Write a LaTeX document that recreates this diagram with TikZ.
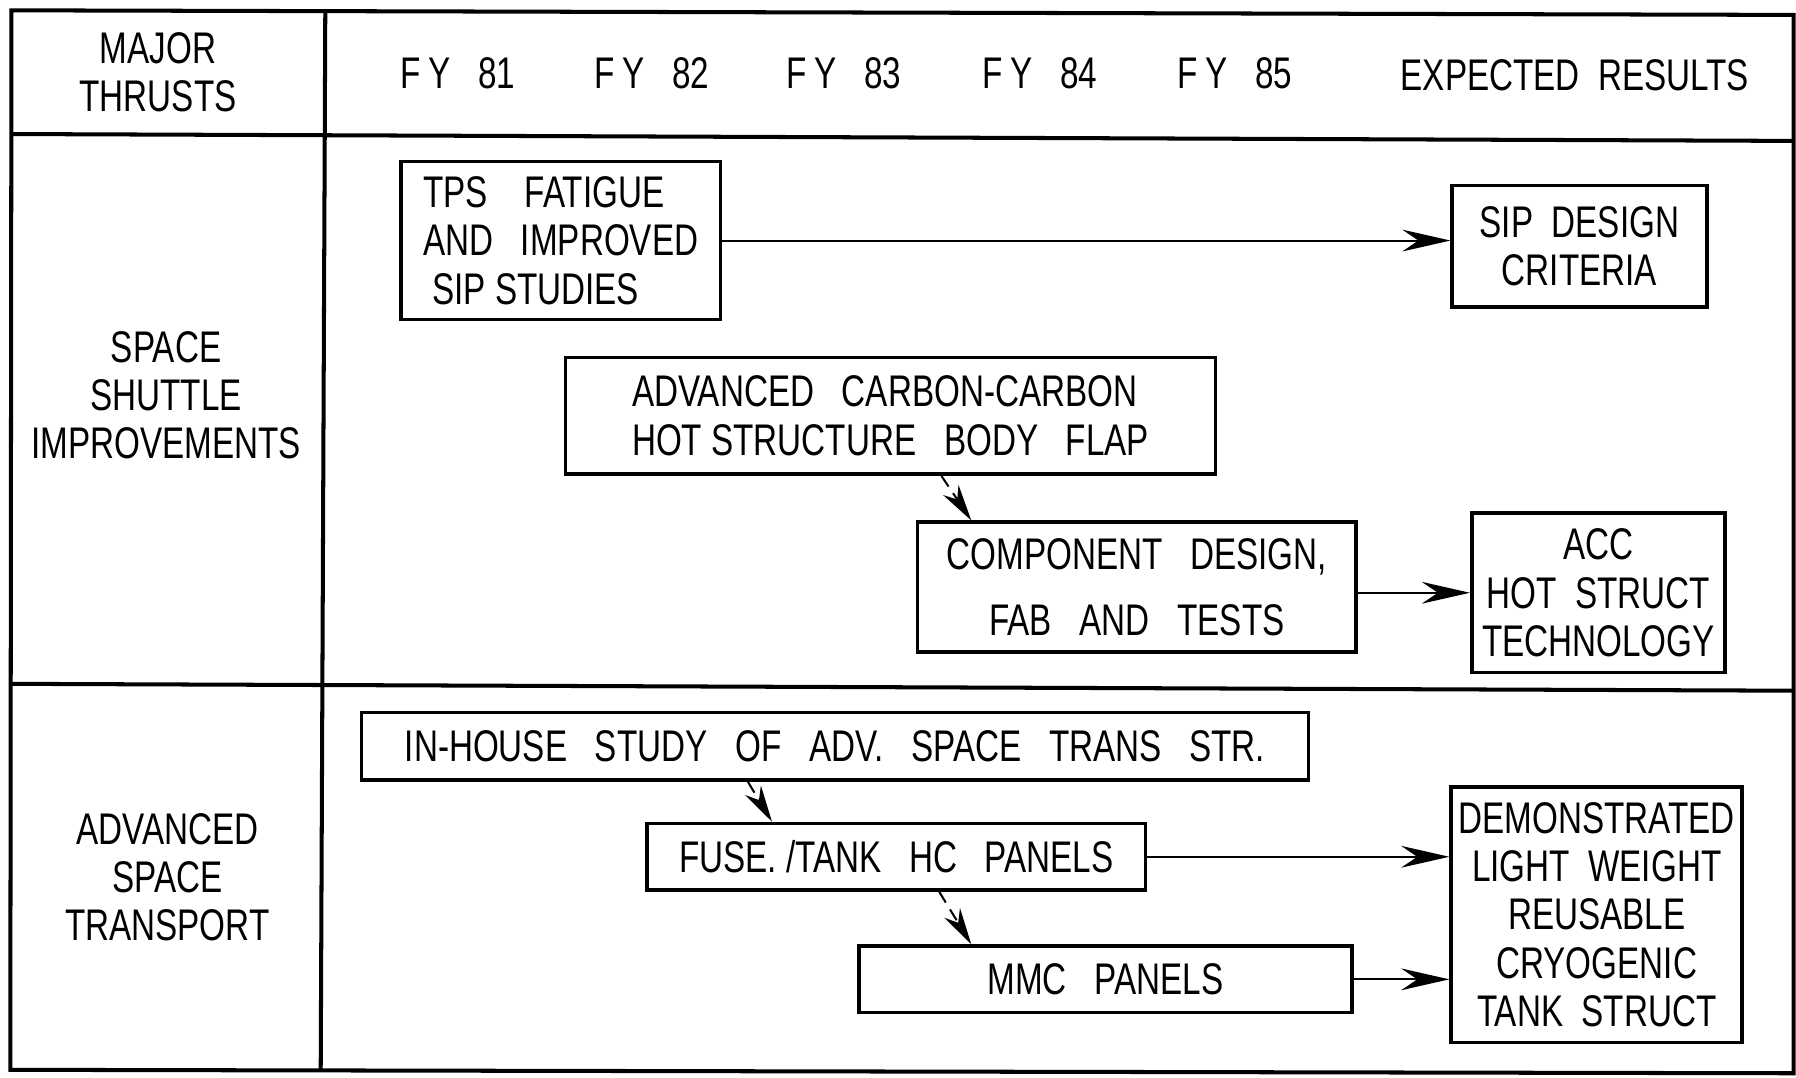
\documentclass[tikz,border=0pt]{standalone}
\usepackage{fontspec}
\setmainfont{Liberation Sans}[FakeStretch=0.75]
\usetikzlibrary{arrows.meta}

\tikzset{
  plan/.style={draw, line width=0.9pt, inner sep=0pt, align=center},
  go/.style={line width=0.5pt, -{Stealth[length=4.2mm, width=1.9mm, inset=1.4mm]}},
  feed/.style={line width=0.5pt, dash pattern=on 1.1mm off 0.7mm,
    -{Stealth[length=3.2mm, width=1.6mm, inset=1mm]}},
}

\begin{document}
\begin{tikzpicture}[x=0.01cm, y={(0cm,-0.01cm)}, font=\fontsize{11}{12}\selectfont]
\useasboundingbox (0,0) rectangle (1568,941);

% table grid
\draw[line width=1pt] (10,9) -- (1566,13) -- (1566,937) -- (9,934) -- cycle;
\draw[line width=1pt] (10,117) -- (1566,123);
\draw[line width=1pt] (9,597) -- (1566,603);
\draw[line width=1pt] (284,9) -- (280,934);

% header
\node[align=center] (thrusts) at (138,63) {MAJOR\\THRUSTS};
\foreach \yr/\xx in {81/400,82/569,83/737,84/908,85/1078}
  \node (fy\yr) at (\xx,64) {F\,Y\ \ \ \yr};
\node (expected) at (1375,66) {EXPECTED\ \ RESULTS};

% row labels
\node[align=center] (shuttle) at (145,345) {SPACE\\SHUTTLE\\IMPROVEMENTS};
\node[align=center] (transport) at (146,766) {ADVANCED\\SPACE\\TRANSPORT};

% space shuttle boxes
\node[plan, align=left, minimum width=2.79cm, minimum height=1.38cm] (tps) at (489.5,210)
  {TPS\ \ \ \ FATIGUE\\AND\ \ \ IMPROVED\\\ SIP STUDIES};
\node[plan, minimum width=2.22cm, minimum height=1.06cm] (sip) at (1379,215)
  {SIP\ \ DESIGN\\CRITERIA};
\node[plan, align=left, minimum width=5.67cm, minimum height=1.02cm] (carbon) at (777.5,363)
  {ADVANCED\ \ \ CARBON-CARBON\\HOT STRUCTURE\ \ \ BODY\ \ \ FLAP};
\node[plan, minimum width=3.83cm, minimum height=1.13cm] (comp) at (992.5,512.5)
  {COMPONENT\ \ \ DESIGN,\\[0.15cm]FAB\ \ \ AND\ \ \ TESTS};
\node[plan, minimum width=2.21cm, minimum height=1.39cm] (acc) at (1395.5,517.5)
  {ACC\\HOT\ \ STRUCT\\TECHNOLOGY};

% space transport boxes
\node[plan, minimum width=8.26cm, minimum height=0.59cm] (study) at (729,651.5)
  {IN-HOUSE\ \ \ STUDY\ \ \ OF\ \ \ ADV.\ \ \ SPACE\ \ \ TRANS\ \ \ STR.};
\node[plan, minimum width=4.35cm, minimum height=0.58cm] (fuse) at (782.5,748)
  {FUSE. /TANK\ \ \ HC\ \ \ PANELS};
\node[plan, minimum width=4.30cm, minimum height=0.58cm] (mmc) at (965,855)
  {MMC\ \ \ PANELS};
\node[plan, minimum width=2.54cm, minimum height=2.23cm] (demo) at (1394,798.5)
  {DEMONSTRATED\\LIGHT\ \ WEIGHT\\REUSABLE\\CRYOGENIC\\TANK\ \ STRUCT};

% flow
\draw[go] (tps.east) -- (tps.east -| sip.west);
\draw[go] (acc.west -| comp.east) -- (acc.west);
\draw[go] (fuse.east) -- (fuse.east -| demo.west);
\draw[go] (mmc.east) -- (mmc.east -| demo.west);
\draw[feed] (822,0 |- carbon.south) -- (848,0 |- comp.north);
\draw[feed] (653,0 |- study.south) -- (674,0 |- fuse.north);
\draw[feed] (820,0 |- fuse.south) -- (848,0 |- mmc.north);
\end{tikzpicture}
\end{document}
